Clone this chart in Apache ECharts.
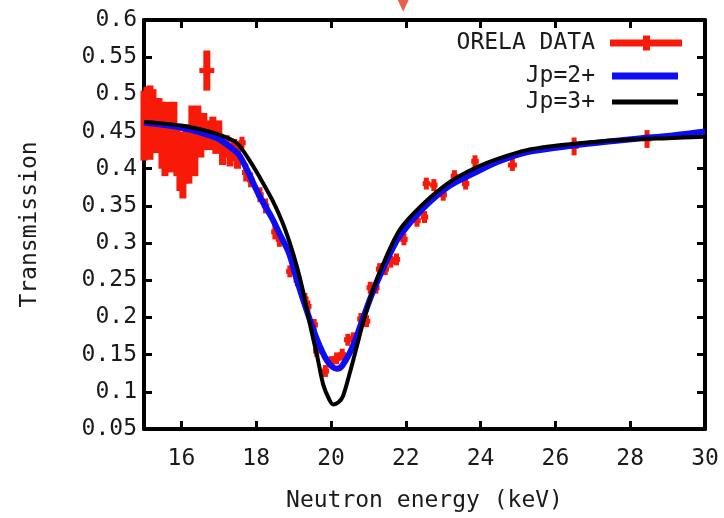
<!DOCTYPE html>
<html>
<head>
<meta charset="utf-8">
<script src="https://cdn.jsdelivr.net/npm/echarts@6/dist/echarts.min.js"></script>
<style>
html,body{margin:0;padding:0;background:#fff;}
#chart{width:724px;height:518px;}
</style>
</head>
<body>
<div id="chart"></div>
<script>
// ---- data ----
const xTicks = [16, 18, 20, 22, 24, 26, 28, 30];
const yTicks = [0.05, 0.1, 0.15, 0.2, 0.25, 0.3, 0.35, 0.4, 0.45, 0.5, 0.55, 0.6];

// ORELA measured data: energy (keV), transmission, transmission error, energy half-width
const orelaE = [15.00, 15.08, 15.16, 15.24, 15.32, 15.40, 15.48, 15.56, 15.64, 15.72, 15.80, 15.88, 15.96, 16.04, 16.12, 16.20, 16.28, 16.36, 16.44, 16.52, 16.60, 16.68, 16.76, 16.84, 16.92, 17.00, 17.10, 17.20, 17.30, 17.40, 17.50, 17.62, 17.72, 17.85, 18.10, 18.25, 18.50, 18.62, 18.90, 19.10, 19.30, 19.38, 19.55, 19.62, 19.85, 20.00, 20.15, 20.30, 20.45, 20.60, 20.80, 20.95, 21.05, 21.20, 21.30, 21.45, 21.60, 21.75, 21.95, 22.30, 22.50, 22.55, 22.75, 23.00, 23.30, 23.60, 23.85, 24.85, 26.50, 28.45];
const orelaT = [0.458, 0.465, 0.462, 0.470, 0.458, 0.460, 0.445, 0.430, 0.455, 0.440, 0.450, 0.425, 0.410, 0.395, 0.420, 0.410, 0.450, 0.430, 0.455, 0.445, 0.450, 0.532, 0.445, 0.450, 0.440, 0.445, 0.425, 0.430, 0.418, 0.425, 0.415, 0.435, 0.395, 0.385, 0.365, 0.350, 0.315, 0.305, 0.262, 0.250, 0.225, 0.215, 0.190, 0.155, 0.128, 0.140, 0.145, 0.150, 0.170, 0.172, 0.198, 0.195, 0.240, 0.240, 0.265, 0.265, 0.275, 0.278, 0.305, 0.330, 0.335, 0.380, 0.378, 0.365, 0.390, 0.380, 0.410, 0.405, 0.430, 0.440];
const orelaTErr = [0.047, 0.045, 0.050, 0.037, 0.037, 0.035, 0.045, 0.040, 0.035, 0.045, 0.040, 0.035, 0.040, 0.035, 0.040, 0.030, 0.035, 0.040, 0.030, 0.030, 0.025, 0.027, 0.020, 0.020, 0.020, 0.020, 0.020, 0.015, 0.015, 0.015, 0.015, 0.008, 0.012, 0.010, 0.010, 0.010, 0.010, 0.010, 0.008, 0.008, 0.008, 0.008, 0.008, 0.008, 0.008, 0.008, 0.008, 0.008, 0.008, 0.008, 0.008, 0.008, 0.008, 0.008, 0.008, 0.008, 0.008, 0.008, 0.008, 0.008, 0.008, 0.008, 0.008, 0.008, 0.008, 0.008, 0.008, 0.008, 0.012, 0.012];
const orelaEErr = [0.08, 0.08, 0.08, 0.08, 0.08, 0.08, 0.08, 0.08, 0.08, 0.08, 0.08, 0.08, 0.08, 0.08, 0.08, 0.08, 0.08, 0.08, 0.08, 0.08, 0.08, 0.20, 0.08, 0.08, 0.08, 0.08, 0.08, 0.08, 0.08, 0.08, 0.08, 0.10, 0.10, 0.10, 0.10, 0.10, 0.10, 0.10, 0.10, 0.10, 0.10, 0.10, 0.10, 0.10, 0.10, 0.10, 0.10, 0.10, 0.10, 0.10, 0.10, 0.10, 0.10, 0.10, 0.10, 0.10, 0.10, 0.10, 0.10, 0.10, 0.10, 0.10, 0.10, 0.10, 0.10, 0.10, 0.10, 0.12, 0.12, 0.12];

// Jp=2+ fit
const fit2E = [15.0, 15.5, 16.0, 16.5, 17.0, 17.36, 17.55, 17.8, 18.08, 18.43, 18.65, 18.88, 19.09, 19.36, 19.63, 19.89, 20.05, 20.16, 20.3, 20.59, 20.85, 21.1, 21.36, 21.6, 21.84, 22.45, 23.17, 23.9, 24.5, 25.23, 26.0, 26.56, 27.5, 28.3, 29.0, 30.0];
const fit2T = [0.462, 0.459, 0.455, 0.449, 0.440, 0.427, 0.418, 0.394, 0.364, 0.333, 0.310, 0.286, 0.250, 0.208, 0.170, 0.142, 0.133, 0.131, 0.135, 0.162, 0.198, 0.232, 0.262, 0.288, 0.310, 0.346, 0.377, 0.396, 0.410, 0.422, 0.428, 0.432, 0.437, 0.441, 0.444, 0.450];

// Jp=3+ fit
const fit3E = [15.0, 15.5, 16.0, 16.5, 17.0, 17.47, 17.8, 18.1, 18.43, 18.7, 18.88, 19.07, 19.25, 19.44, 19.63, 19.79, 19.95, 20.06, 20.2, 20.32, 20.5, 20.69, 20.85, 21.12, 21.36, 21.84, 22.45, 23.17, 23.89, 24.5, 25.23, 26.0, 26.56, 27.5, 28.3, 29.0, 30.0];
const fit3T = [0.463, 0.461, 0.458, 0.453, 0.446, 0.435, 0.413, 0.388, 0.358, 0.328, 0.303, 0.272, 0.236, 0.190, 0.148, 0.110, 0.090, 0.083, 0.086, 0.094, 0.125, 0.161, 0.192, 0.237, 0.268, 0.318, 0.352, 0.382, 0.402, 0.414, 0.425, 0.431, 0.434, 0.438, 0.440, 0.441, 0.443];

// resonance marker arrow above the frame
const arrowE = [21.93];
const arrowT = [0.619];

// ---- chart ----
const FONT = 'DejaVu Sans Mono';
const RED = '#f81a08';
const BLUE = '#0c0cf5';
const BLACK = '#000000';
const TXT = '#1a1a1a';

const zip = (a, b) => a.map((v, i) => [v, b[i]]);
const orelaData = orelaE.map((v, i) => [v, orelaT[i], orelaTErr[i], orelaEErr[i]]);

const chart = echarts.init(document.getElementById('chart'), null, {renderer: 'canvas'});

const axisLineStyle = {color: BLACK, width: 4};
const tickStyle = {color: BLACK, width: 3};

const option = {
  animation: false,
  backgroundColor: '#ffffff',
  grid: {left: 144, right: 19, top: 20, bottom: 86, show: false},
  xAxis: [{
    type: 'value', min: 15, max: 30,
    name: 'Neutron energy (keV)', nameLocation: 'middle', nameGap: 61,
    nameTextStyle: {fontFamily: FONT, fontSize: 23, color: TXT},
    axisLine: {show: true, onZero: false, lineStyle: axisLineStyle},
    axisTick: {show: true, inside: true, length: 8, lineStyle: tickStyle, customValues: xTicks},
    axisLabel: {fontFamily: FONT, fontSize: 23, color: TXT, margin: 19, customValues: xTicks},
    splitLine: {show: false}
  }, {
    type: 'value', min: 15, max: 30, position: 'top',
    axisLine: {show: true, onZero: false, lineStyle: axisLineStyle},
    axisTick: {show: true, inside: true, length: 8, lineStyle: tickStyle, customValues: xTicks},
    axisLabel: {show: false},
    splitLine: {show: false}
  }],
  yAxis: [{
    type: 'value', min: 0.05, max: 0.6,
    name: 'Transmission', nameLocation: 'middle', nameGap: 102,
    nameTextStyle: {fontFamily: FONT, fontSize: 23, color: TXT},
    axisLine: {show: true, onZero: false, lineStyle: axisLineStyle},
    axisTick: {show: true, inside: true, length: 8, lineStyle: tickStyle, customValues: yTicks},
    axisLabel: {fontFamily: FONT, fontSize: 23, color: TXT, margin: 7, customValues: yTicks,
      formatter: v => String(+(+v).toFixed(2))},
    splitLine: {show: false}
  }, {
    type: 'value', min: 0.05, max: 0.6, position: 'right',
    axisLine: {show: true, onZero: false, lineStyle: axisLineStyle},
    axisTick: {show: true, inside: true, length: 8, lineStyle: tickStyle, customValues: yTicks},
    axisLabel: {show: false},
    splitLine: {show: false}
  }],
  legend: [{
    data: [{name: 'ORELA DATA', icon: 'path://M0,4h72v7h-72z M33,0h7v15h-7z'}],
    right: 42, top: 31, padding: 0, orient: 'vertical', align: 'right',
    itemWidth: 72, itemHeight: 15, selectedMode: false,
    textStyle: {fontFamily: FONT, fontSize: 23, color: TXT, lineHeight: 24, padding: [0, 10, 0, 0]},
    itemStyle: {color: RED}
  }, {
    data: [{name: 'Jp=2+', icon: 'rect'}],
    right: 46, top: 64, padding: 0, orient: 'vertical', align: 'right',
    itemWidth: 66, itemHeight: 7, selectedMode: false,
    textStyle: {fontFamily: FONT, fontSize: 23, color: TXT, lineHeight: 24, padding: [0, 12, 0, 0]}
  }, {
    data: [{name: 'Jp=3+', icon: 'rect'}],
    right: 46, top: 90, padding: 0, orient: 'vertical', align: 'right',
    itemWidth: 66, itemHeight: 5, selectedMode: false,
    textStyle: {fontFamily: FONT, fontSize: 23, color: TXT, lineHeight: 24, padding: [0, 12, 0, 0]}
  }],
  series: [{
    name: 'ORELA DATA', type: 'custom', color: RED, z: 2, clip: false,
    data: orelaData,
    renderItem: function (params, api) {
      const x = api.value(0), y = api.value(1), ey = api.value(2), ex = api.value(3);
      const v0 = api.coord([x, y - ey]), v1 = api.coord([x, y + ey]);
      const h0 = api.coord([x - ex, y]), h1 = api.coord([x + ex, y]);
      const w = ey > 0.014 ? 7 : 5;
      return {type: 'group', children: [
        {type: 'line', shape: {x1: v0[0], y1: v0[1], x2: v1[0], y2: v1[1]}, style: {stroke: RED, lineWidth: w}},
        {type: 'line', shape: {x1: h0[0], y1: h0[1], x2: h1[0], y2: h1[1]}, style: {stroke: RED, lineWidth: 5}}
      ]};
    }
  }, {
    name: 'Jp=2+', type: 'line', color: BLUE, z: 3,
    data: zip(fit2E, fit2T), showSymbol: false, smooth: 0.3,
    lineStyle: {color: BLUE, width: 6}
  }, {
    name: 'Jp=3+', type: 'line', color: BLACK, z: 4,
    data: zip(fit3E, fit3T), showSymbol: false, smooth: 0.3,
    lineStyle: {color: BLACK, width: 4}
  }, {
    name: 'marker', type: 'scatter', z: 5, clip: false, silent: true,
    data: zip(arrowE, arrowT), symbol: 'triangle', symbolRotate: 180, symbolSize: [11, 12],
    itemStyle: {color: '#e03a20'}
  }]
};
chart.setOption(option);
</script>
</body>
</html>
